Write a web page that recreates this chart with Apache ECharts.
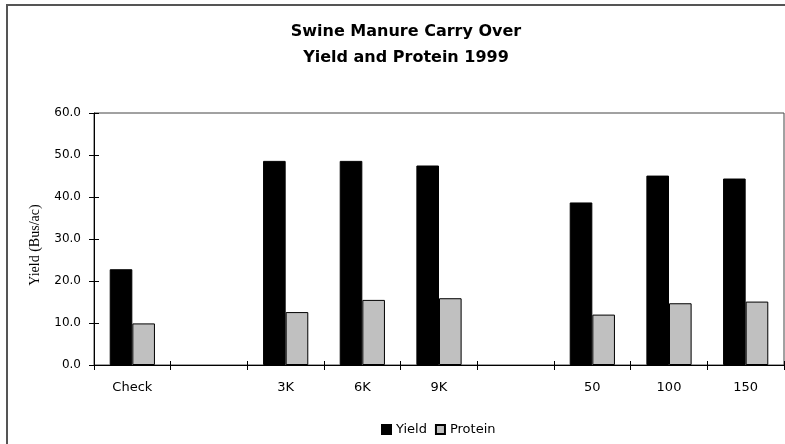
<!DOCTYPE html>
<html>
<head>
<meta charset="utf-8">
<script src="https://cdn.jsdelivr.net/npm/echarts@6/dist/echarts.min.js"></script>
<style>
html,body{margin:0;padding:0;background:#fff;}
#main{width:785px;height:444px;}
</style>
</head>
<body>
<div id="main"></div>
<script>
const categories = ['Check', ' ', '3K', '6K', '9K', '  ', '50', '100', '150'];
const yieldValues = [22.8, null, 48.6, 48.6, 47.5, null, 38.7, 45.1, 44.4];
const proteinValues = [9.9, null, 12.6, 15.5, 15.9, null, 12.0, 14.7, 15.1];
const yTicks = { min: 0, max: 60, interval: 10 };

const chart = echarts.init(document.getElementById('main'), null, { renderer: 'canvas' });
const font = 'DejaVu Sans';
chart.setOption({
  animation: false,
  backgroundColor: '#fff',
  title: {
    text: 'Swine Manure Carry Over\nYield and Protein 1999',
    left: 401,
    textAlign: 'center',
    top: 14,
    textStyle: { fontFamily: font, fontSize: 16, fontWeight: 'bold', color: '#000', lineHeight: 26 }
  },
  graphic: [
    { type: 'rect', shape: { x: 7, y: 5, width: 820, height: 470 }, style: { fill: 'none', stroke: '#555', lineWidth: 2 }, silent: true },
    { type: 'text', x: 35, y: 245, rotation: Math.PI / 2,
      style: { text: 'Yield (Bus/ac)', font: '14px "Liberation Serif", "Times New Roman", serif', fill: '#000', align: 'center', verticalAlign: 'middle' } }
  ],
  legend: {
    left: 376,
    top: 418,
    itemWidth: 9,
    itemHeight: 9,
    itemGap: 8,
    icon: 'rect',
    textStyle: { fontFamily: font, fontSize: 13, color: '#000' },
    data: ['Yield', 'Protein']
  },
  grid: { left: 94, right: 1, top: 113, bottom: 79, show: true, borderColor: '#444', borderWidth: 1, containLabel: false },
  xAxis: [
    {
      type: 'category', data: categories, position: 'bottom',
      axisLine: { lineStyle: { color: '#000', width: 1 } },
      axisTick: { show: true, length: 5, inside: false, lineStyle: { color: '#000' } },
      axisLabel: { fontFamily: font, fontSize: 13, color: '#000', margin: 16, interval: 0 }
    },
    {
      type: 'category', data: categories, position: 'bottom',
      axisLine: { show: false },
      axisTick: { show: true, length: 4, inside: true, lineStyle: { color: '#000' } },
      axisLabel: { show: false }
    }
  ],
  yAxis: [
    {
      type: 'value', min: yTicks.min, max: yTicks.max, interval: yTicks.interval, position: 'left',
      axisLine: { show: true, lineStyle: { color: '#000', width: 1 } },
      axisTick: { show: true, length: 5, lineStyle: { color: '#000' } },
      axisLabel: { fontFamily: font, fontSize: 12, color: '#000', margin: 13, formatter: v => v.toFixed(1) },
      splitLine: { show: false }
    },
    {
      type: 'value', min: yTicks.min, max: yTicks.max, interval: yTicks.interval, position: 'left',
      axisLine: { show: false },
      axisTick: { show: true, length: 5, inside: true, lineStyle: { color: '#000' } },
      axisLabel: { show: false },
      splitLine: { show: false }
    }
  ],
  series: [
    {
      name: 'Yield', type: 'bar', data: yieldValues, xAxisIndex: 0, yAxisIndex: 0,
      barCategoryGap: '41%', barGap: '0%',
      itemStyle: { color: '#000', borderColor: '#000', borderWidth: 1 }
    },
    {
      name: 'Protein', type: 'bar', data: proteinValues, xAxisIndex: 0, yAxisIndex: 0,
      barCategoryGap: '41%', barGap: '0%',
      itemStyle: { color: '#c0c0c0', borderColor: '#000', borderWidth: 1 }
    }
  ]
});
</script>
</body>
</html>
